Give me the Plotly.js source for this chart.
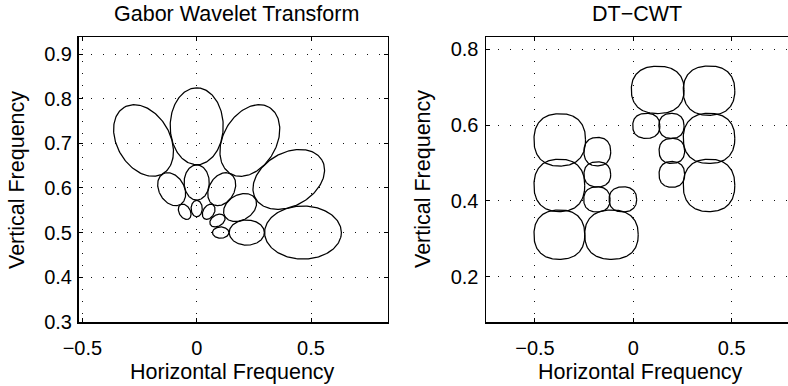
<!DOCTYPE html>
<html><head><meta charset="utf-8">
<script src="https://cdn.plot.ly/plotly-3.0.1.min.js"></script>
<style>html,body{margin:0;padding:0;background:#fff}</style>
</head><body><div id="chart" style="width:788px;height:386px"></div>
<script>
// ---------- Gabor wavelet transform (left) ----------
const gaborOrientationsDeg = [0, 30, 60, 90, 120];
const gaborScaleRadius = [0.465, 0.219, 0.105];          // distance of ellipse centre from origin
const gaborRadialHalfWidth = [0.168, 0.077, 0.036];      // half axis along the radial direction
const gaborTangentialHalfWidth = [0.116, 0.055, 0.0245]; // half axis across it
const gaborOrigin = [0, 0.5];

// ---------- DT-CWT (right) ----------
const dtcwtCenterX = [-0.374, -0.376, -0.376, -0.111, -0.183, -0.183, -0.185, -0.053,
                       0.124,  0.385,  0.385,  0.385,  0.066,  0.194,  0.196,  0.196];
const dtcwtCenterY = [ 0.561,  0.441,  0.311,  0.311,  0.530,  0.470,  0.404,  0.404,
                       0.693,  0.691,  0.565,  0.441,  0.598,  0.598,  0.532,  0.470];
const dtcwtHalfWidth = [0.131, 0.129, 0.129, 0.136, 0.068, 0.068, 0.067, 0.070,
                        0.134, 0.131, 0.131, 0.131, 0.069, 0.064, 0.065, 0.065];
const dtcwtHalfHeight = [0.069, 0.069, 0.065, 0.065, 0.0375, 0.033, 0.033, 0.033,
                         0.0624, 0.065, 0.066, 0.069, 0.033, 0.033, 0.033, 0.034];

// ---------- ticks ----------
const xTicksLeft = [-0.5, 0, 0.5];
const yTicksLeft = [0.3, 0.4, 0.5, 0.6, 0.7, 0.8, 0.9];
const xTicksRight = [-0.5, 0, 0.5];
const yTicksRight = [0.2, 0.4, 0.6, 0.8];
const xRangeLeft = [-0.517, 0.8355], yRangeLeft = [0.2987, 0.938];
const xRangeRight = [-0.749, 0.7865], yRangeRight = [0.0797, 0.8317];

// ---------- layout geometry (pixels) ----------
const W = 788, H = 386;
const boxL = {l: 78.5, r: 387.7, t: 37.3, b: 322.3};
const boxR = {l: 486, r: 788, t: 37.3, b: 322.3};

const FONT = 'Liberation Sans, Arial, Helvetica, sans-serif';
const traces = [];
const lineStyle = {color: '#000', width: 1.25};

// aspect: y data units per x data unit at equal screen length
const aspectL = ((yRangeLeft[1] - yRangeLeft[0]) / (boxL.b - boxL.t)) /
                ((xRangeLeft[1] - xRangeLeft[0]) / (boxL.r - boxL.l));
const N = 180;
gaborScaleRadius.forEach((R, s) => {
  gaborOrientationsDeg.forEach(deg => {
    const phi = deg * Math.PI / 180;
    const xs = [], ys = [];
    for (let i = 0; i <= N; i++) {
      const t = 2 * Math.PI * i / N;
      const u = gaborRadialHalfWidth[s] * Math.cos(t);
      const v = gaborTangentialHalfWidth[s] * Math.sin(t);
      const px = R * Math.cos(phi) + u * Math.cos(phi) - v * Math.sin(phi);
      const py = R * Math.sin(phi) + u * Math.sin(phi) + v * Math.cos(phi);
      xs.push(gaborOrigin[0] + px);
      ys.push(gaborOrigin[1] + py * aspectL);
    }
    traces.push({x: xs, y: ys, xaxis: 'x', yaxis: 'y', type: 'scatter', mode: 'lines',
                 line: lineStyle, hoverinfo: 'skip', showlegend: false});
  });
});

const EXP = 2.35;
dtcwtCenterX.forEach((cx, k) => {
  const xs = [], ys = [];
  for (let i = 0; i <= N; i++) {
    const t = 2 * Math.PI * i / N;
    const c = Math.cos(t), s = Math.sin(t);
    xs.push(cx + dtcwtHalfWidth[k] * Math.sign(c) * Math.pow(Math.abs(c), 2 / EXP));
    ys.push(dtcwtCenterY[k] + dtcwtHalfHeight[k] * Math.sign(s) * Math.pow(Math.abs(s), 2 / EXP));
  }
  traces.push({x: xs, y: ys, xaxis: 'x2', yaxis: 'y2', type: 'scatter', mode: 'lines',
               line: lineStyle, hoverinfo: 'skip', showlegend: false});
});

function axis(common) {
  return Object.assign({
    ticks: 'inside', ticklen: 4, tickwidth: 1, tickcolor: '#000',
    showline: true, linecolor: '#000', linewidth: 1.5,
    showgrid: true, gridcolor: '#111', gridwidth: 1, griddash: '1px,11px',
    zeroline: false, fixedrange: true,
    tickfont: {family: FONT, size: 20, color: '#000'}
  }, common);
}

const layout = {
  width: W, height: H,
  margin: {l: 0, r: 0, t: 0, b: 0},
  paper_bgcolor: '#fff', plot_bgcolor: '#fff',
  showlegend: false,
  xaxis: axis({domain: [boxL.l / W, boxL.r / W], range: xRangeLeft, tickvals: xTicksLeft,
               anchor: 'y', mirror: 'ticks', ticklabelstandoff: 7}),
  yaxis: axis({domain: [1 - boxL.b / H, 1 - boxL.t / H], range: yRangeLeft, tickvals: yTicksLeft,
               anchor: 'x', mirror: 'ticks', ticklabelstandoff: 1}),
  xaxis2: axis({domain: [boxR.l / W, boxR.r / W], range: xRangeRight, tickvals: xTicksRight,
                anchor: 'y2', mirror: 'ticks', ticklabelstandoff: 7}),
  yaxis2: axis({domain: [1 - boxR.b / H, 1 - boxR.t / H], range: yRangeRight, tickvals: yTicksRight,
                anchor: 'x2', mirror: false, ticklabelstandoff: 2}),
  annotations: [
    {text: 'Gabor Wavelet Transform', x: 236 / W, y: 1 - 14 / H},
    {text: 'DT\u2212CWT', x: 637 / W, y: 1 - 14 / H},
    {text: 'Horizontal Frequency', x: 232.5 / W, y: 1 - 372 / H},
    {text: 'Horizontal Frequency', x: 640 / W, y: 1 - 372 / H},
    {text: 'Vertical Frequency', x: 17 / W, y: 1 - 180 / H, textangle: -90},
    {text: 'Vertical Frequency', x: 423 / W, y: 1 - 179 / H, textangle: -90}
  ].map(a => Object.assign({xref: 'paper', yref: 'paper', showarrow: false,
        xanchor: 'center', yanchor: 'middle', font: {family: FONT, size: 21.5, color: '#000'}}, a))
};

Plotly.newPlot('chart', traces, layout, {staticPlot: true, displayModeBar: false});
</script></body></html>
